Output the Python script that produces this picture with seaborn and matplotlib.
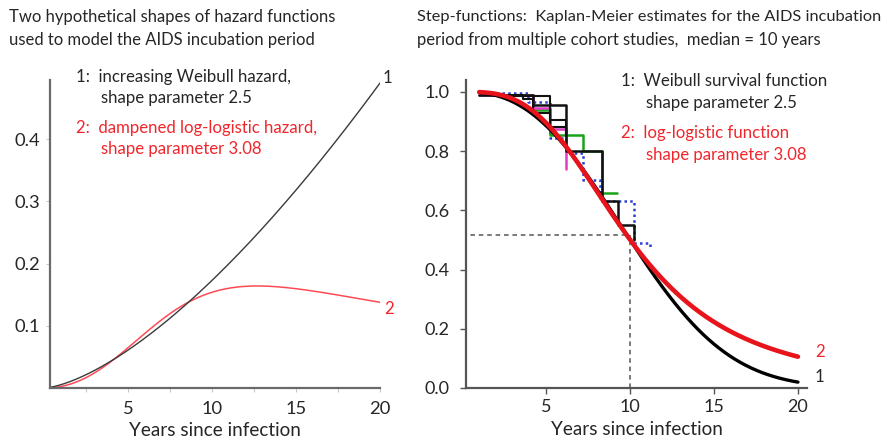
import numpy as np
import pandas as pd
import matplotlib
matplotlib.use("Agg")
import matplotlib.pyplot as plt
import seaborn as sns

# Model parameters (median incubation time = 10 years)
weibull_shape = 2.5
loglogistic_shape = 3.08
median_years = 10.0

# Kaplan-Meier step estimates from the cohort studies: (years, survival)
km_black_a_t = [1.0, 4.2, 6.2, 8.3, 9.3, 10.2]
km_black_a_s = [0.988, 0.955, 0.80, 0.63, 0.55, 0.50]
km_black_b_t = [2.0, 3.6, 4.2, 5.2, 6.2]
km_black_b_s = [0.99, 0.975, 0.93, 0.905, 0.85]
km_black_c_t = [3.0, 5.2, 6.2]
km_black_c_s = [0.985, 0.88, 0.85]
km_magenta_t = [1.0, 4.2, 5.2, 6.2]
km_magenta_s = [0.988, 0.945, 0.875, 0.74]
km_green_t = [1.0, 4.2, 5.2, 7.2, 8.3, 9.2]
km_green_s = [0.988, 0.94, 0.855, 0.80, 0.657, 0.657]
km_blue_t = [1.0, 3.9, 5.2, 6.2, 7.2, 8.2, 10.2, 11.2]
km_blue_s = [0.995, 0.967, 0.845, 0.795, 0.703, 0.63, 0.49, 0.47]
median_line_s = 0.515

left_title = ["Two hypothetical shapes of hazard functions",
              "used to model the AIDS incubation period"]
right_title = ["Step-functions:  Kaplan-Meier estimates for the AIDS incubation",
               "period from multiple cohort studies,  median = 10 years"]
xlabel = "Years since infection"

W, H = 896, 442
sns.set_theme(style="white")
plt.rcParams["font.family"] = ["Lato", "DejaVu Sans"]

fig = plt.figure(figsize=(W / 100, H / 100), dpi=100)


def fx(px):
    return px / W


def fy(py):
    return 1 - py / H


TXT = "#262626"
RED = "#f0262d"

# ---------------- left panel: hazard functions ----------------
axL = fig.add_axes([fx(49.5), fy(388), fx(380) - fx(49.5), fy(80) - fy(388)])
wb_scale = median_years / np.log(2) ** (1 / weibull_shape)
t = np.linspace(0.3, 20, 300)
h_wb = (weibull_shape / wb_scale) * (t / wb_scale) ** (weibull_shape - 1)
z = (t / median_years)
h_ll = (loglogistic_shape / median_years) * z ** (loglogistic_shape - 1) / (1 + z ** loglogistic_shape)
haz = pd.DataFrame({"t": t, "weibull": h_wb, "loglogistic": h_ll})
sns.lineplot(data=haz, x="t", y="loglogistic", ax=axL, color="#ff4a55", lw=1.1)
sns.lineplot(data=haz, x="t", y="weibull", ax=axL, color="#3a3a3a", lw=1.0)
axL.set_xlim(0.3, 20)
axL.set_ylim(0, 0.495)
axL.set_xticks([5, 10, 15, 20])
axL.set_xticks([2.5, 7.5, 12.5, 17.5], minor=True)
axL.set_yticks([0.1, 0.2, 0.3, 0.4])
axL.set_yticklabels(["0.1", "0.2", "0.3", "0.4"])
for s in ["top", "right"]:
    axL.spines[s].set_visible(False)
for s in ["left", "bottom"]:
    axL.spines[s].set_color("#6a6a6a")
    axL.spines[s].set_linewidth(1.6)
axL.tick_params(axis="both", which="both", direction="out", length=3, width=0.8,
                color="#c8c8c8", labelsize=13.2, labelcolor=TXT, pad=4,
                bottom=True, left=True)
axL.tick_params(axis="x", pad=6)
axL.set_xlabel(xlabel, fontsize=13.6, color=TXT, labelpad=4)
axL.set_ylabel("")

# ---------------- right panel: survival functions ----------------
axR = fig.add_axes([fx(466), fy(388), fx(807) - fx(466), fy(80) - fy(388)])
t2 = np.linspace(1.0, 20, 300)
s_wb = np.exp(-(t2 / wb_scale) ** weibull_shape)
s_ll = 1 / (1 + (t2 / median_years) ** loglogistic_shape)
surv = pd.DataFrame({"t": t2, "weibull": s_wb, "loglogistic": s_ll})

# median reference lines
axR.plot([0, median_years], [median_line_s, median_line_s], ls=(0, (3, 2.5)),
         color="#555555", lw=1.1, zorder=1)
axR.plot([median_years, median_years], [0, median_line_s], ls=(0, (3, 2.5)),
         color="#555555", lw=1.1, zorder=1)

steps = [
    (km_blue_t, km_blue_s, "#2b3fd6", (0, (1, 1.3)), 1.8),
    (km_green_t, km_green_s, "#1aa31a", "-", 1.8),
    (km_magenta_t, km_magenta_s, "#e03cc8", "-", 1.8),
    (km_black_c_t, km_black_c_s, "#111111", "-", 1.5),
    (km_black_b_t, km_black_b_s, "#111111", "-", 1.5),
    (km_black_a_t, km_black_a_s, "#111111", "-", 1.8),
]
for tt, ss, col, ls, lw in steps:
    sns.lineplot(x=tt, y=ss, ax=axR, color=col, lw=lw, linestyle=ls,
                 drawstyle="steps-post", estimator=None, sort=False, zorder=2)

sns.lineplot(data=surv, x="t", y="weibull", ax=axR, color="#000000", lw=2.4, zorder=3)
sns.lineplot(data=surv, x="t", y="loglogistic", ax=axR, color="#e8141c", lw=3.3, zorder=4)
axR.set_xlim(0.21, 20.54)
axR.set_ylim(0, 1.04)
axR.set_xticks([5, 10, 15, 20])
axR.set_yticks([0.0, 0.2, 0.4, 0.6, 0.8, 1.0])
axR.set_yticklabels(["0.0", "0.2", "0.4", "0.6", "0.8", "1.0"])
for s in ["top", "right"]:
    axR.spines[s].set_visible(False)
for s in ["left", "bottom"]:
    axR.spines[s].set_color("#555555")
    axR.spines[s].set_linewidth(1.6)
axR.tick_params(axis="both", direction="out", length=4, width=1.0, color="#555555",
                labelsize=13.0, labelcolor=TXT, pad=4, bottom=True, left=True)
axR.tick_params(axis="y", pad=8)
axR.set_xlabel(xlabel, fontsize=13.6, color=TXT, labelpad=4)
axR.set_ylabel("")

# ---------------- titles and annotations ----------------
fs_t = 12.0
fs = 12.1
fig.text(fx(9), fy(17), left_title[0], fontsize=fs_t, color=TXT, va="center")
fig.text(fx(9), fy(40), left_title[1], fontsize=fs_t, color=TXT, va="center")
fig.text(fx(417), fy(17), right_title[0], fontsize=11.8, color=TXT, va="center")
fig.text(fx(417), fy(40), right_title[1], fontsize=fs_t, color=TXT, va="center")

fig.text(fx(76), fy(77), "1:  increasing Weibull hazard,", fontsize=fs, color=TXT, va="center")
fig.text(fx(101), fy(98), "shape parameter 2.5", fontsize=fs, color=TXT, va="center")
fig.text(fx(76), fy(128), "2:  dampened log-logistic hazard,", fontsize=fs, color=RED, va="center")
fig.text(fx(101), fy(149), "shape parameter 3.08", fontsize=fs, color=RED, va="center")
fig.text(fx(383), fy(78), "1", fontsize=fs, color=TXT, va="center")
fig.text(fx(384), fy(309), "2", fontsize=fs, color=RED, va="center")

fig.text(fx(621), fy(81), "1:  Weibull survival function", fontsize=fs, color=TXT, va="center")
fig.text(fx(646), fy(103), "shape parameter 2.5", fontsize=fs, color=TXT, va="center")
fig.text(fx(621), fy(133), "2:  log-logistic function", fontsize=fs, color=RED, va="center")
fig.text(fx(646), fy(155), "shape parameter 3.08", fontsize=fs, color=RED, va="center")
fig.text(fx(815), fy(352), "2", fontsize=fs, color=RED, va="center")
fig.text(fx(815), fy(377), "1", fontsize=fs, color=TXT, va="center")

fig.savefig("out.png", dpi=100)
